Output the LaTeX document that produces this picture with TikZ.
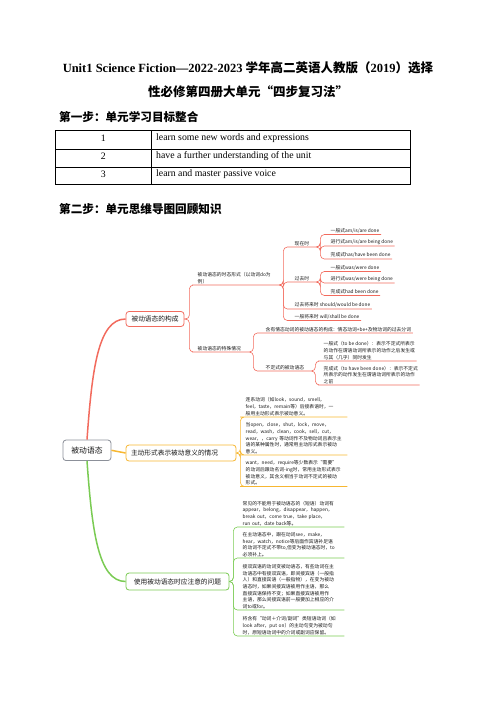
\documentclass[tikz,border=0pt]{standalone}
\usepackage{fontspec}
\setmainfont{Liberation Serif}
\newfontfamily\cjk{Noto Sans CJK SC}
\usetikzlibrary{positioning}

\definecolor{mapred}{HTML}{F26B5E}
\definecolor{mapyellow}{HTML}{F7B731}
\definecolor{mapgreen}{HTML}{7ACB53}
\definecolor{mapgray}{HTML}{8C9099}

\begin{document}
\begin{tikzpicture}[x=1pt, y=-1pt,
    heading/.style = {anchor=west, inner sep=0pt, font=\cjk\bfseries\fontsize{11.6}{14}\selectfont},
    cell/.style = {inner sep=0pt, font=\fontsize{9.8}{12}\selectfont},
    mainbox/.style = {draw, rounded corners=3pt, line width=0.8pt, fill=white, inner xsep=4pt,
        font=\cjk\fontsize{6.7}{8}\selectfont, text=black!90},
    topic/.style = {anchor=south west, inner xsep=1.5pt, inner ysep=1.2pt, align=left,
        font=\cjk\fontsize{4.8}{6.6}\selectfont, text=black!90},
    note/.style = {topic, text width=100pt},
    link/.style = {rounded corners=4pt, line width=0.6pt},
    branch/.style = {line width=1.5pt}]
    \useasboundingbox (0,0) rectangle (496,702);

    % title and headings
    \node (title1) at (248,68) {\fontsize{12.5}{15}\selectfont\bfseries Unit1 Science Fiction—2022-2023 {\cjk 学年高二英语人教版（}2019{\cjk ）选择}};
    \node (title2) at (248,92) {\cjk\bfseries\fontsize{12.5}{15}\selectfont 性必修第四册大单元“四步复习法”};
    \node[heading] (step1) at (59,117) {第一步：单元学习目标整合};
    \node[heading] (step2) at (59,209) {第二步：单元思维导图回顾知识};

    % goals table
    \draw[line width=0.6pt] (55,130.7) rectangle (410,184.3);
    \draw[line width=0.6pt] (55,149.3) -- (410,149.3);
    \draw[line width=0.6pt] (55,167.3) -- (410,167.3);
    \draw[line width=0.6pt] (151.7,130.7) -- (151.7,184.3);
    \node[cell] (num1) at (103.3,138.5) {1};
    \node[cell] (num2) at (103.3,156.5) {2};
    \node[cell] (num3) at (103.3,174.5) {3};
    \node[cell, anchor=west] (goal1) at (156,138.5) {learn some new words and expressions};
    \node[cell, anchor=west] (goal2) at (156,156.5) {have a further understanding of the unit};
    \node[cell, anchor=west] (goal3) at (156,174.5) {learn and master passive voice};

    % mind map: main boxes
    \node[mainbox, draw=mapgray, minimum width=48pt, minimum height=20.5pt,
        font=\cjk\fontsize{7.8}{9}\selectfont] (root) at (87,450.3) {被动语态};
    \node[mainbox, draw=mapred, minimum width=58pt, minimum height=15pt] (cons) at (155,319) {被动语态的构成};
    \node[mainbox, draw=mapyellow, minimum width=110pt, minimum height=16pt, align=left,
        text width=100pt] (active) at (181,453) {主动形式表示被动意义的情况};
    \node[mainbox, draw=mapgreen, minimum width=103pt, minimum height=17pt] (use) at (177.5,581.5) {使用被动语态时应注意的问题};

    \draw[branch, mapred] (root.north) .. controls (92,370) and (98,319) .. (cons.west);
    \draw[branch, mapyellow] (root.east) -- (active.west);
    \draw[branch, mapgreen] (root.south) .. controls (92,530) and (98,581.5) .. (use.west);

    % red branch
    \node[topic, text width=80pt] (tense) at (196,285) {被动语态的时态形式（以动词do为\\例）};
    \node[topic, text width=50pt] (special) at (196,352) {被动语态的特殊情况};
    \node[topic, text width=20pt] (present) at (293,247) {现在时};
    \node[topic, text width=20pt] (past) at (293,282) {过去时};
    \node[topic] (futpast) at (293,309) {过去将来时 should/would be done};
    \node[topic] (fut) at (293,320.5) {一般将来时 will/shall be done};
    \node[topic] (pres1) at (329,234.5) {一般式am/is/are done};
    \node[topic] (pres2) at (329,246) {进行式am/is/are being done};
    \node[topic] (pres3) at (329,259) {完成式has/have been done};
    \node[topic] (past1) at (329,271.5) {一般式was/were done};
    \node[topic] (past2) at (329,283) {进行式was/were being done};
    \node[topic] (past3) at (329,295.5) {完成式had been done};
    \node[topic] (modal) at (264,333) {含有情态动词的被动语态的构成：情态动词+be+及物动词的过去分词};
    \node[topic, text width=44pt] (infin) at (264,371) {不定式的被动语态};
    \node[topic] (inf1) at (322,361) {一般式（to be done）：表示不定式所表示\\的动作在谓语动词所表示的动作之后发生或\\与其（几乎）同时发生};
    \node[topic] (inf2) at (322,385) {完成式（to have been done）：表示不定式\\所表示的动作发生在谓语动词所表示的动作\\之前};

    \foreach \kid in {tense, special}
        \draw[link, mapred] (cons.east) -- ++(5,0) |- (\kid.south west) -- (\kid.south east);
    \foreach \kid in {present, past, futpast, fut}
        \draw[link, mapred] (tense.south east) -- ++(4,0) |- (\kid.south west) -- (\kid.south east);
    \foreach \kid in {pres1, pres2, pres3}
        \draw[link, mapred] (present.south east) -- ++(4,0) |- (\kid.south west) -- (\kid.south east);
    \foreach \kid in {past1, past2, past3}
        \draw[link, mapred] (past.south east) -- ++(4,0) |- (\kid.south west) -- (\kid.south east);
    \foreach \kid in {modal, infin}
        \draw[link, mapred] (special.south east) -- ++(4,0) |- (\kid.south west) -- (\kid.south east);
    \foreach \kid in {inf1, inf2}
        \draw[link, mapred] (infin.south east) -- ++(4,0) |- (\kid.south west) -- (\kid.south east);

    % yellow branch
    \node[note] (link1) at (244,417) {连系动词（如look，sound，smell，\\feel，taste，remain等）后接表语时，一\\般用主动形式表示被动意义。};
    \node[note] (link2) at (244,455) {当open，close，shut，lock，move，\\read，wash，clean，cook，sell，cut，\\wear，，carry 等动词作不及物动词且表示主\\语的某种属性时，通常用主动形式表示被动\\意义。};
    \node[note] (link3) at (244,486.5) {want，need，require等少数表示“需要”\\的动词后跟动名词-ing时，常用主动形式表示\\被动意义，其含义相当于动词不定式的被动\\形式。};
    \foreach \kid in {link1, link2, link3}
        \draw[link, mapyellow] (active.east) -- ++(4,0) |- (\kid.south west) -- (\kid.south east);

    % green branch
    \node[note] (note1) at (241,527) {常见的不能用于被动语态的（短语）动词有\\appear，belong，disappear，happen，\\break out，come true，take place，\\run out，date back等。};
    \node[note] (note2) at (241,558) {在主动语态中，跟在动词see，make，\\hear，watch，notice等后面作宾语补足语\\的动词不定式不带to,但变为被动语态时，to\\必须补上。};
    \node[note] (note3) at (241,610) {接双宾语的动词变被动语态，有些动词在主\\动语态中有接双宾语，即间接宾语（一般指\\人）和直接宾语（一般指物），在变为被动\\语态时，如果间接宾语被用作主语，那么\\直接宾语保持不变；如果直接宾语被用作\\主语，那么间接宾语前一般要加上相应的介\\词to或for。};
    \node[note] (note4) at (241,636) {将含有“动词＋介词/副词”类短语动词（如\\look after，put on）的主动句变为被动句\\时，原短语动词中的介词或副词应保留。};
    \foreach \kid in {note1, note2, note3, note4}
        \draw[link, mapgreen] (use.east) -- ++(4,0) |- (\kid.south west) -- (\kid.south east);
\end{tikzpicture}
\end{document}
